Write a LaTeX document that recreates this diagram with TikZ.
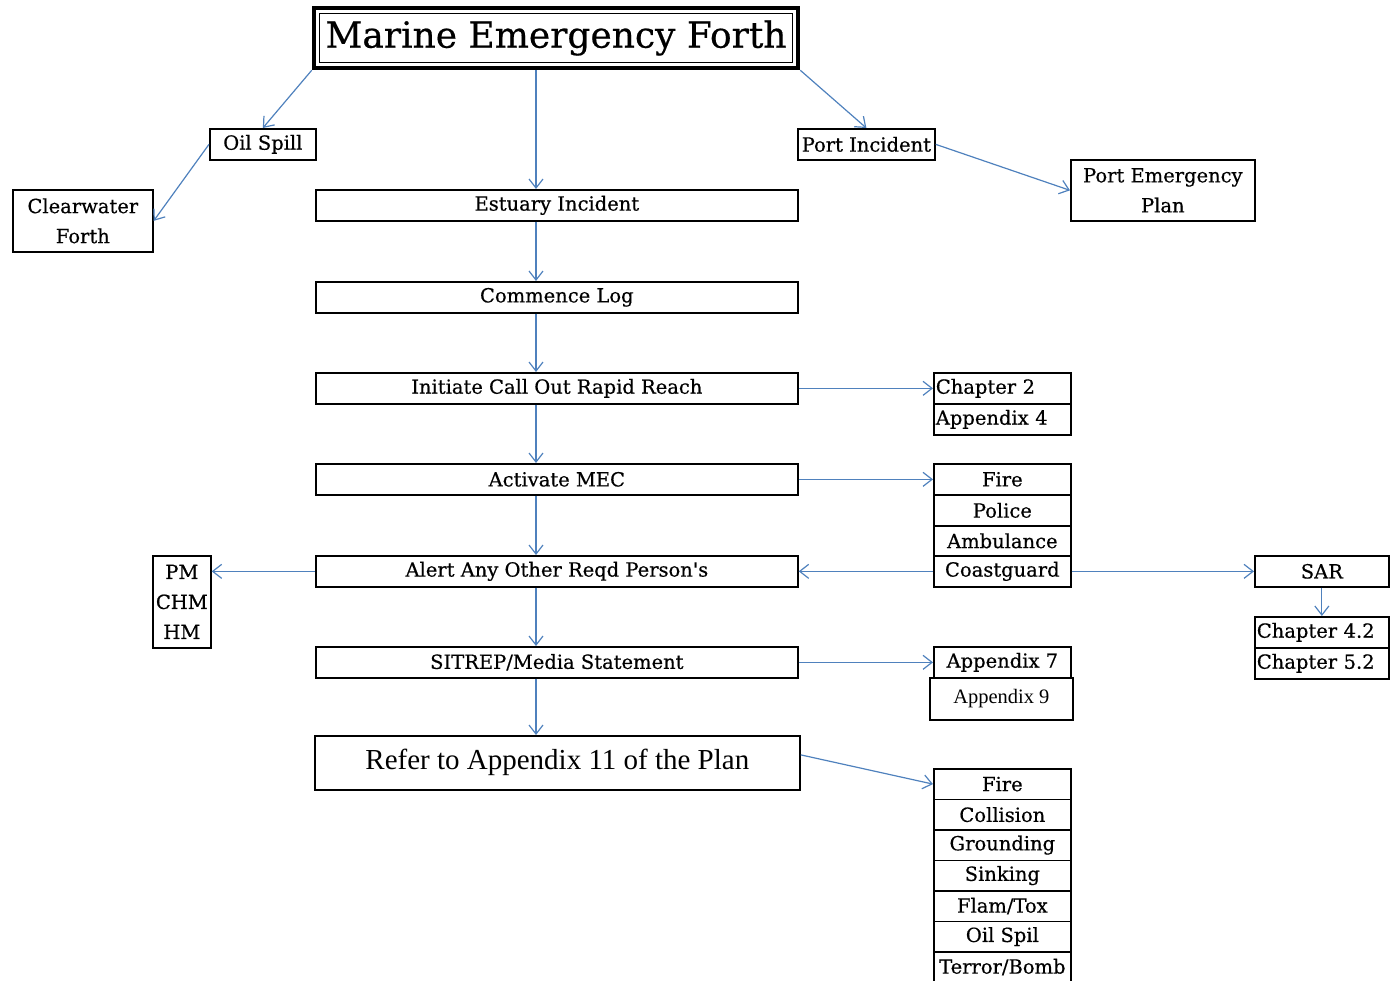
\documentclass[tikz,border=0pt]{standalone}
\usepackage{fontspec}
\newfontfamily\rkfont[FakeBold=0.5]{DejaVu Serif}
\newfontfamily\garfamily{Liberation Serif}
\usetikzlibrary{arrows.meta}
\definecolor{arrowblue}{RGB}{79,129,189}
\newcommand\boxfnt{\rkfont\fontsize{19.5}{30}\selectfont}
\newcommand\titlefnt{\rkfont\fontsize{36}{40}\selectfont}
\newcommand\garfnt{\garfamily\fontsize{29}{32}\selectfont}
\newcommand\smallgarfnt{\garfamily\fontsize{20.5}{24}\selectfont}
\tikzset{
  bx/.style={draw, line width=1.7pt, inner sep=0pt, anchor=north west, font=\boxfnt, align=center},
  lbx/.style={bx, align=left, inner xsep=2pt},
  con/.style={draw=arrowblue, line width=1.2pt, -{Straight Barb[length=9pt,width=14pt]}}
}
\begin{document}
\begin{tikzpicture}[x=1pt,y=-1pt]
\useasboundingbox (0,0) rectangle (1394,981);
\coordinate (sp) at (536,0);
% title
\node[draw, line width=4.5pt, minimum width=484, minimum height=60, inner sep=0pt, font=\titlefnt] (title) at (556,38) {Marine Emergency Forth};
\draw[line width=1pt] (319.5,13.5) rectangle (792.5,63);
% spine
\node[bx, minimum width=482, minimum height=31] (est) at (315,189) {Estuary Incident};
\node[bx, minimum width=482, minimum height=31] (log) at (315,281) {Commence Log};
\node[bx, minimum width=482, minimum height=31] (call) at (315,372) {Initiate Call Out Rapid Reach};
\node[bx, minimum width=482, minimum height=31] (mec) at (315,463) {Activate MEC};
\node[bx, minimum width=482, minimum height=31] (alert) at (315,555) {Alert Any Other Reqd Person's};
\node[bx, minimum width=482, minimum height=31] (sit) at (315,646) {SITREP/Media Statement};
\node[bx, minimum width=485, minimum height=54, font=\garfnt] (refer) at (314,735) {Refer to Appendix 11 of the Plan};
% top branches
\node[bx, minimum width=106, minimum height=31] (oil) at (209,128) {Oil Spill};
\node[bx, minimum width=140, minimum height=62] (cw) at (12,189) {Clearwater\\Forth};
\node[bx, minimum width=137, minimum height=31] (port) at (797,128) {Port Incident};
\node[bx, minimum width=184, minimum height=61] (pep) at (1070,159) {Port Emergency\\Plan};
% right stacks
\node[lbx, minimum width=137, minimum height=31, text width=133] (ch2) at (933,372) {Chapter 2};
\node[lbx, minimum width=137, minimum height=31, text width=133] (ap4) at (933,403) {Appendix 4};
\node[bx, minimum width=137, minimum height=31] (fire1) at (933,463) {Fire};
\node[bx, minimum width=137, minimum height=31] (pol) at (933,494) {Police};
\node[bx, minimum width=137, minimum height=30] (amb) at (933,525) {Ambulance};
\node[bx, minimum width=137, minimum height=31] (cg) at (933,555) {Coastguard};
\node[bx, minimum width=58, minimum height=92] (pm) at (152,555) {PM\\CHM\\HM};
\node[bx, minimum width=134, minimum height=31] (sar) at (1254,555) {SAR};
\node[lbx, minimum width=134, minimum height=31, text width=130] (ch42) at (1254,616) {Chapter 4.2};
\node[lbx, minimum width=134, minimum height=31, text width=130] (ch52) at (1254,647) {Chapter 5.2};
\node[bx, minimum width=137, minimum height=31] (ap7) at (933,646) {Appendix 7};
\node[bx, minimum width=143, minimum height=42, font=\smallgarfnt] (ap9) at (929,677) {Appendix 9};
\foreach \t [count=\i] in {Fire,Collision,Grounding,Sinking,Flam/Tox,Oil Spil,Terror/Bomb}
  \node[bx, minimum width=137, minimum height=30.5] (l\i) at (933,{768+30.5*(\i-1)}) {\t};
% connectors
\draw[con] (title.south west) -- (oil.north);
\draw[con] (title.south -| sp) -- (est.north -| sp);
\draw[con] (title.south east) -- (port.north);
\draw[con] (oil.west) -- (cw.east);
\draw[con] (port.east) -- (pep.west);
\draw[con] (est.south -| sp) -- (log.north -| sp);
\draw[con] (log.south -| sp) -- (call.north -| sp);
\draw[con] (call.south -| sp) -- (mec.north -| sp);
\draw[con] (mec.south -| sp) -- (alert.north -| sp);
\draw[con] (alert.south -| sp) -- (sit.north -| sp);
\draw[con] (sit.south -| sp) -- (refer.north -| sp);
\draw[con] (call.east) -- (ch2.west);
\draw[con] (mec.east) -- (fire1.west);
\draw[con] (cg.west) -- (alert.east);
\draw[con] (alert.west) -- (alert.west -| pm.east);
\draw[con] (cg.east) -- (sar.west);
\draw[con] (sar.south) -- (ch42.north);
\draw[con] (sit.east) -- (ap7.west);
\draw[con] ([yshift=8pt]refer.east) -- (l1.west);
\end{tikzpicture}
\end{document}
